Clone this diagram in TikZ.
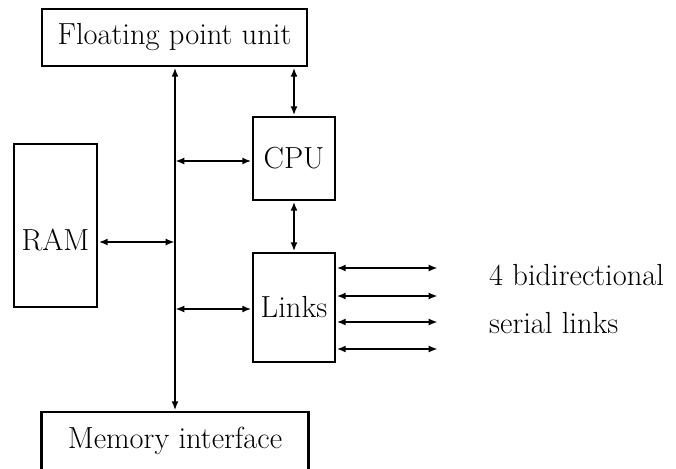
\documentclass[tikz,border=0pt]{standalone}
\usetikzlibrary{arrows.meta}
\begin{document}
\begin{tikzpicture}[x=1pt,y=-1pt,
  box/.style={draw,line width=2.8pt,rectangle,inner sep=0pt,font=\fontsize{30.5}{36}\selectfont},
  lbl/.style={inner sep=0pt,font=\fontsize{30.5}{36}\selectfont},
  conn/.style={line width=1.8pt,{Latex[length=9pt,width=7pt]}-{Latex[length=9pt,width=7pt]},shorten <=0.3pt,shorten >=0.3pt}]
\useasboundingbox (0,0) rectangle (676,468);
\node[box,minimum width=265pt,minimum height=57pt] (fpu) at (174.5,37.5) {Floating point unit};
\node[box,minimum width=82pt,minimum height=83pt] (cpu) at (294,158.5) {CPU};
\node[box,minimum width=83pt,minimum height=163pt] (ram) at (55.5,225.5) {};
\node[lbl] (ramtxt) at (55.5,240) {RAM};
\node[box,minimum width=82pt,minimum height=109pt] (links) at (294,307.5) {Links};
\node[box,minimum width=267pt,minimum height=58pt] (mem) at (175,441) {Memory interface};
\coordinate (bus) at (175,0);
\coordinate (cpurow) at (0,161);
\coordinate (ramrow) at (0,242);
\coordinate (linkrow) at (0,309);
\coordinate (s1) at (438,268);
\coordinate (s2) at (438,296);
\coordinate (s3) at (438,322);
\coordinate (s4) at (438,349);
\draw[conn] (fpu.south -| bus) -- (mem.north -| bus);
\draw[conn] (fpu.south -| cpu.north) -- (cpu.north);
\draw[conn] (bus |- cpurow) -- (cpu.west |- cpurow);
\draw[conn] (ram.east |- ramrow) -- (bus |- ramrow);
\draw[conn] (bus |- linkrow) -- (links.west |- linkrow);
\draw[conn] (cpu.south) -- (links.north);
\draw[conn] (links.east |- s1) -- (s1);
\draw[conn] (links.east |- s2) -- (s2);
\draw[conn] (links.east |- s3) -- (s3);
\draw[conn] (links.east |- s4) -- (s4);
\node[lbl,anchor=base west] (t1) at (489,285) {4 bidirectional};
\node[lbl,anchor=base west] (t2) at (489,333) {serial links};
\end{tikzpicture}
\end{document}
